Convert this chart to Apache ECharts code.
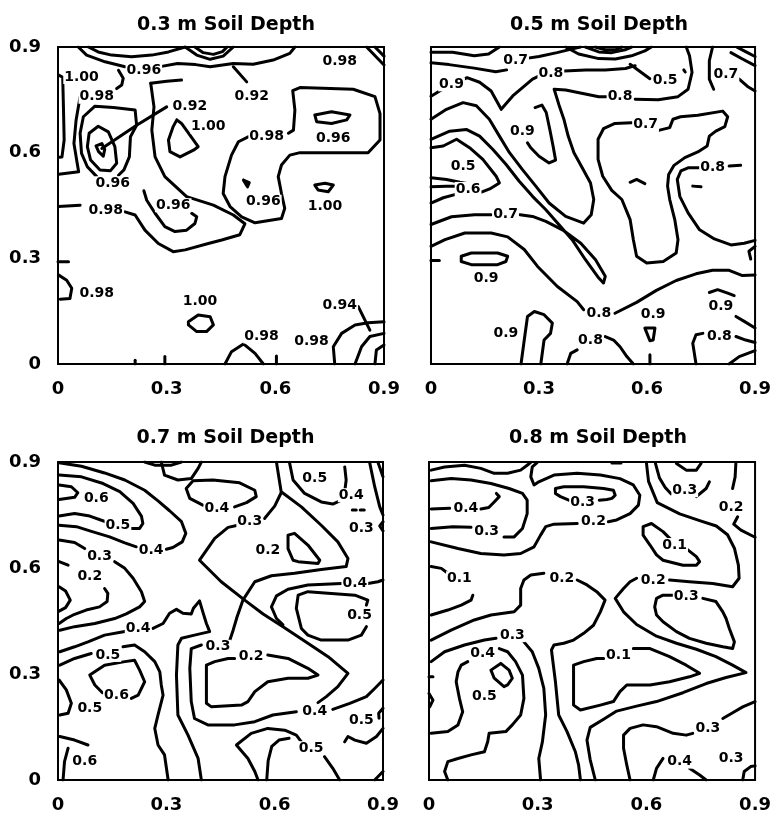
<!DOCTYPE html>
<html>
<head>
<meta charset="utf-8">
<script src="https://cdn.jsdelivr.net/npm/echarts@6/dist/echarts.min.js"></script>
<style>
html,body{margin:0;padding:0;background:#fff;}
#chart{width:774px;height:819px;}
</style>
</head>
<body>
<div id="chart"></div>
<script>
// ---------- DATA ----------
const titles = ['0.3 m Soil Depth', '0.5 m Soil Depth', '0.7 m Soil Depth', '0.8 m Soil Depth'];
const tickValues = [0, 0.3, 0.6, 0.9];
const tickLabels = ['0', '0.3', '0.6', '0.9'];

// Panel 1 (0.3 m) contour polylines, [x, y] in metres
const p1Lines = [
  [[0.002,0.82],[0.013,0.814],[0.015,0.73],[0.017,0.636],[0.011,0.588],[0.002,0.587]],
  [[0.061,0.759],[0.05,0.693],[0.044,0.626],[0.053,0.57],[0.057,0.546],[0.002,0.539]],
  [[0.107,0.532],[0.081,0.56],[0.065,0.598],[0.061,0.655],[0.07,0.702],[0.102,0.732],[0.153,0.728],[0.213,0.721],[0.217,0.678],[0.2,0.645],[0.197,0.588],[0.182,0.551],[0.167,0.536]],
  [[0.086,0.655],[0.111,0.675],[0.139,0.659],[0.157,0.617],[0.162,0.57],[0.145,0.549],[0.116,0.551],[0.09,0.579],[0.081,0.617],[0.086,0.655]],
  [[0.105,0.619],[0.121,0.626],[0.129,0.609],[0.125,0.59],[0.112,0.603],[0.105,0.619]],
  [[0.121,0.612],[0.217,0.678],[0.3,0.73]],
  [[0.256,0.797],[0.265,0.73],[0.259,0.664],[0.268,0.588],[0.295,0.532],[0.355,0.475],[0.429,0.451],[0.484,0.423],[0.516,0.398],[0.502,0.367],[0.452,0.352],[0.415,0.342],[0.351,0.324],[0.318,0.319],[0.277,0.342],[0.24,0.38],[0.213,0.423],[0.185,0.432]],
  [[0.256,0.797],[0.3,0.803],[0.341,0.806]],
  [[0.001,0.447],[0.061,0.451]],
  [[0.525,0.645],[0.498,0.631],[0.479,0.593],[0.461,0.532],[0.456,0.484],[0.475,0.447],[0.507,0.418],[0.544,0.401],[0.617,0.413],[0.626,0.442],[0.617,0.484],[0.608,0.532],[0.617,0.565],[0.64,0.593],[0.668,0.6],[0.856,0.6],[0.889,0.636],[0.889,0.711],[0.875,0.759],[0.815,0.78],[0.668,0.785],[0.648,0.776],[0.654,0.721],[0.65,0.664],[0.636,0.655]],
  [[0.709,0.707],[0.755,0.716],[0.806,0.707],[0.797,0.693],[0.755,0.683],[0.714,0.688],[0.709,0.707]],
  [[0.709,0.508],[0.737,0.513],[0.76,0.508],[0.746,0.489],[0.718,0.494],[0.709,0.508]],
  [[0.512,0.522],[0.528,0.515],[0.523,0.503],[0.512,0.522]],
  [[0.328,0.693],[0.341,0.683],[0.387,0.617],[0.374,0.607],[0.337,0.588],[0.309,0.603],[0.305,0.636],[0.318,0.674],[0.328,0.693]],
  [[0.237,0.492],[0.245,0.465],[0.268,0.428],[0.295,0.39],[0.323,0.376],[0.355,0.38],[0.378,0.399],[0.383,0.418],[0.369,0.428]],
  [[0.001,0.253],[0.024,0.238],[0.038,0.215],[0.033,0.186],[0.006,0.184]],
  [[0.36,0.12],[0.387,0.139],[0.42,0.134],[0.429,0.111],[0.41,0.092],[0.383,0.092],[0.36,0.111],[0.36,0.12]],
  [[0.461,0],[0.479,0.035],[0.512,0.057],[0.544,0.03],[0.567,0]],
  [[0.764,0],[0.76,0.049],[0.783,0.087],[0.82,0.111],[0.856,0.117],[0.9,0.12]],
  [[0.82,0],[0.838,0.049],[0.861,0.078],[0.9,0.087]],
  [[0.875,0],[0.879,0.04],[0.9,0.054]],
  [[0.829,0.163],[0.861,0.096]],
  [[0.852,0.9],[0.9,0.849]],
  [[0.875,0.9],[0.9,0.874]],
  [[0,0.29],[0.029,0.29]],
  [[0.213,0],[0.213,0.011]],
  [[0.295,0],[0.295,0.021]],
  [[0.603,0],[0.603,0.023]],
  [[0.351,0.9],[0.383,0.877],[0.42,0.865],[0.456,0.874],[0.484,0.9]],
  [[0.378,0.9],[0.401,0.884],[0.429,0.879],[0.454,0.887],[0.467,0.9]],
  [[0.286,0.845],[0.33,0.853],[0.38,0.85],[0.42,0.844],[0.484,0.853],[0.539,0.851],[0.594,0.863],[0.64,0.882],[0.654,0.9]],
  [[0.484,0.844],[0.521,0.801]],
  [[0.056,0.9],[0.079,0.877],[0.13,0.858],[0.185,0.844]],
  [[0.084,0.9],[0.111,0.886],[0.148,0.877],[0.203,0.872],[0.259,0.877],[0.305,0.886],[0.351,0.9]],
  [[0.167,0.834],[0.18,0.811],[0.176,0.792],[0.162,0.782]]
];
const p1Labels = [
  ['0.92',0.364,0.732],['1.00',0.415,0.674],['0.96',0.151,0.513],['0.98',0.107,0.759],['1.00',0.065,0.815],
  ['0.96',0.237,0.833],['0.92',0.535,0.759],['0.98',0.778,0.858],['0.98',0.576,0.645],['0.96',0.76,0.64],
  ['0.96',0.318,0.451],['0.96',0.567,0.461],['1.00',0.737,0.447],['0.98',0.132,0.437],['0.98',0.107,0.2],
  ['1.00',0.392,0.177],['0.98',0.562,0.078],['0.98',0.7,0.063],['0.94',0.778,0.167]
];

// Panel 2 (0.5 m)
const p2Lines = [
  [[0,0.885],[0.06,0.885],[0.12,0.875],[0.16,0.88],[0.19,0.9]],
  [[0,0.855],[0.05,0.85],[0.12,0.84],[0.18,0.83],[0.21,0.835]],
  [[0.26,0.867],[0.30,0.873],[0.35,0.884],[0.39,0.894],[0.415,0.9]],
  [[0,0.76],[0.04,0.785],[0.075,0.80],[0.10,0.813],[0.135,0.80],[0.167,0.775],[0.195,0.723],[0.227,0.761],[0.282,0.809],[0.305,0.82]],
  [[0.37,0.832],[0.43,0.835],[0.484,0.835],[0.54,0.839],[0.567,0.847]],
  [[0.374,0.9],[0.41,0.88],[0.466,0.867],[0.512,0.866],[0.557,0.875],[0.594,0.889],[0.612,0.9]],
  [[0.429,0.9],[0.466,0.886],[0.502,0.884],[0.539,0.892],[0.557,0.9]],
  [[0.456,0.9],[0.484,0.892],[0.512,0.892],[0.53,0.9]],
  [[0.553,0.851],[0.608,0.81]],
  [[0,0.695],[0.043,0.723],[0.089,0.742],[0.126,0.733],[0.162,0.695],[0.19,0.647],[0.218,0.6],[0.254,0.552],[0.291,0.505],[0.328,0.457],[0.374,0.419],[0.424,0.40],[0.445,0.424],[0.452,0.467],[0.443,0.514],[0.42,0.557],[0.397,0.6],[0.381,0.647],[0.369,0.695],[0.355,0.737],[0.342,0.78],[0.374,0.778],[0.466,0.759],[0.489,0.759]],
  [[0.567,0.752],[0.631,0.75],[0.686,0.759],[0.714,0.78],[0.725,0.828],[0.718,0.875],[0.709,0.9]],
  [[0,0.638],[0.052,0.661],[0.098,0.666],[0.135,0.647],[0.172,0.609],[0.208,0.567],[0.245,0.519],[0.282,0.476],[0.319,0.438],[0.355,0.396],[0.392,0.353],[0.429,0.296],[0.466,0.244],[0.479,0.23],[0.484,0.249],[0.457,0.296],[0.416,0.343],[0.365,0.381],[0.319,0.405],[0.282,0.419],[0.247,0.424]],
  [[0.167,0.424],[0.121,0.424],[0.057,0.418],[0,0.396]],
  [[0,0.614],[0.034,0.619],[0.071,0.638],[0.107,0.614],[0.144,0.581],[0.181,0.533],[0.19,0.514],[0.163,0.497],[0.14,0.488]],
  [[0.066,0.481],[0.034,0.472],[0,0.457]],
  [[0,0.529],[0.043,0.524],[0.08,0.516],[0.103,0.512],[0.08,0.505],[0.043,0.505],[0,0.503]],
  [[0.268,0.628],[0.277,0.614],[0.30,0.59],[0.328,0.571],[0.346,0.579],[0.339,0.619],[0.33,0.666],[0.32,0.714],[0.308,0.735],[0.289,0.728]],
  [[0.635,0.664],[0.663,0.671],[0.672,0.695],[0.693,0.702],[0.741,0.706],[0.81,0.718],[0.824,0.702],[0.816,0.674],[0.791,0.661],[0.773,0.647],[0.767,0.619],[0.741,0.602],[0.705,0.586],[0.675,0.564],[0.66,0.538],[0.657,0.505],[0.663,0.467],[0.677,0.41],[0.686,0.353],[0.681,0.315],[0.645,0.291],[0.599,0.287],[0.571,0.306],[0.562,0.353],[0.553,0.41],[0.53,0.467],[0.502,0.493],[0.477,0.533],[0.464,0.581],[0.464,0.638],[0.479,0.668],[0.511,0.683],[0.557,0.685]],
  [[0.746,0.557],[0.714,0.557],[0.694,0.548],[0.684,0.524],[0.691,0.476],[0.714,0.429],[0.746,0.381],[0.787,0.355],[0.833,0.338],[0.87,0.343],[0.9,0.351]],
  [[0.594,0.512],[0.571,0.524],[0.553,0.516]],
  [[0.828,0.562],[0.86,0.564]],
  [[0.727,0.505],[0.75,0.503]],
  [[0,0.334],[0.039,0.353],[0.094,0.372],[0.167,0.372],[0.213,0.361],[0.259,0.325],[0.296,0.277],[0.351,0.22],[0.406,0.177],[0.424,0.154]],
  [[0.511,0.144],[0.571,0.175],[0.626,0.209],[0.681,0.237],[0.736,0.256],[0.782,0.266],[0.828,0.266],[0.865,0.251],[0.9,0.253]],
  [[0.084,0.306],[0.112,0.315],[0.185,0.315],[0.213,0.306],[0.208,0.291],[0.185,0.282],[0.112,0.282],[0.084,0.291],[0.084,0.306]],
  [[0,0.294],[0.023,0.294]],
  [[0.25,0],[0.259,0.068],[0.268,0.135],[0.287,0.149],[0.314,0.14],[0.337,0.116],[0.332,0.087],[0.314,0.068],[0.305,0]],
  [[0.378,0],[0.388,0.03],[0.406,0.04]],
  [[0.484,0.078],[0.507,0.068],[0.525,0.049],[0.544,0.021],[0.562,0]],
  [[0.594,0.102],[0.622,0.102],[0.617,0.068],[0.608,0.066],[0.594,0.102]],
  [[0.608,0.026],[0.608,0]],
  [[0.773,0.203],[0.796,0.211],[0.824,0.201],[0.842,0.194]],
  [[0.847,0.135],[0.87,0.121],[0.9,0.102]],
  [[0.736,0],[0.727,0.059],[0.736,0.083],[0.755,0.087]],
  [[0.847,0.078],[0.874,0.068],[0.9,0.061]],
  [[0.828,0],[0.856,0.021],[0.9,0.038]],
  [[0.9,0.334],[0.883,0.32],[0.888,0.298]],
  [[0.782,0.9],[0.773,0.861],[0.773,0.809],[0.785,0.78]],
  [[0.833,0.884],[0.865,0.866],[0.9,0.847]],
  [[0.851,0.899],[0.879,0.884],[0.9,0.873]],
  [[0.856,0.809],[0.879,0.788],[0.9,0.775]],
  [[0.702,0.835],[0.706,0.829]]
];
const p2Labels = [
  ['0.7',0.235,0.862],['0.9',0.057,0.794],['0.8',0.333,0.826],['0.5',0.65,0.804],['0.8',0.525,0.761],
  ['0.7',0.819,0.823],['0.9',0.254,0.661],['0.5',0.089,0.562],['0.6',0.103,0.497],['0.7',0.207,0.424],
  ['0.7',0.596,0.68],['0.8',0.782,0.557],['0.9',0.153,0.244],['0.8',0.466,0.144],['0.9',0.617,0.14],
  ['0.9',0.805,0.163],['0.9',0.208,0.087],['0.8',0.443,0.068],['0.8',0.801,0.078]
];

// Panel 3 (0.7 m)
const p3Lines = [
  [[0.003,0.835],[0.037,0.83],[0.055,0.813],[0.046,0.8],[0.003,0.794]],
  [[0.003,0.863],[0.065,0.858],[0.125,0.839],[0.171,0.816],[0.208,0.783],[0.231,0.747],[0.235,0.726],[0.226,0.712],[0.203,0.712]],
  [[0.132,0.731],[0.088,0.747],[0.046,0.754],[0.003,0.747]],
  [[0.003,0.898],[0.065,0.888],[0.129,0.869],[0.185,0.849],[0.24,0.82],[0.277,0.79],[0.309,0.762],[0.342,0.731],[0.354,0.698],[0.344,0.674],[0.318,0.658],[0.3,0.653]],
  [[0.217,0.66],[0.185,0.671],[0.143,0.688],[0.088,0.705],[0.051,0.717],[0.003,0.721]],
  [[0.24,0.9],[0.268,0.891],[0.314,0.891],[0.342,0.9]],
  [[0.286,0.9],[0.295,0.863],[0.332,0.849],[0.369,0.853],[0.388,0.882],[0.397,0.9]],
  [[0.401,0.778],[0.365,0.797],[0.355,0.825],[0.374,0.847],[0.429,0.849],[0.503,0.841],[0.545,0.82],[0.549,0.802],[0.522,0.785],[0.489,0.773]],
  [[0.003,0.679],[0.046,0.672],[0.074,0.655]],
  [[0.157,0.618],[0.185,0.599],[0.208,0.571],[0.231,0.533],[0.24,0.505],[0.226,0.49],[0.189,0.47],[0.157,0.457],[0.102,0.443],[0.046,0.434],[0.005,0.424]],
  [[0.003,0.618],[0.028,0.608]],
  [[0.129,0.542],[0.138,0.528],[0.136,0.505],[0.115,0.49],[0.078,0.481],[0.046,0.469],[0.023,0.457],[0.003,0.443]],
  [[0.003,0.547],[0.021,0.535],[0.034,0.509],[0.021,0.488],[0.003,0.478]],
  [[0.005,0.363],[0.046,0.377],[0.083,0.391],[0.129,0.41],[0.185,0.42]],
  [[0.263,0.429],[0.291,0.443],[0.309,0.472],[0.328,0.483],[0.346,0.472],[0.369,0.47],[0.375,0.486],[0.392,0.507],[0.401,0.476],[0.411,0.443],[0.42,0.42],[0.378,0.41],[0.342,0.401],[0.332,0.382],[0.328,0.297],[0.332,0.184],[0.36,0.127],[0.388,0.061],[0.397,0]],
  [[0.005,0.325],[0.046,0.344],[0.092,0.358]],
  [[0.18,0.377],[0.212,0.382],[0.24,0.363],[0.268,0.335],[0.282,0.306],[0.286,0.269],[0.291,0.24],[0.277,0.184],[0.268,0.146],[0.277,0.099],[0.295,0.071],[0.305,0]],
  [[0.123,0.247],[0.102,0.269],[0.088,0.297],[0.129,0.325],[0.185,0.335],[0.212,0.339],[0.226,0.311],[0.24,0.278],[0.222,0.24],[0.203,0.231]],
  [[0.003,0.283],[0.023,0.255],[0.037,0.217],[0.028,0.189],[0.005,0.184]],
  [[0.005,0.123],[0.046,0.113],[0.083,0.099]],
  [[0.028,0.09],[0.018,0.052],[0.014,0]],
  [[0.605,0.899],[0.618,0.816],[0.674,0.773],[0.729,0.721],[0.775,0.674],[0.803,0.627],[0.798,0.604],[0.729,0.596],[0.655,0.585],[0.591,0.578],[0.545,0.561],[0.512,0.509],[0.496,0.462],[0.485,0.424],[0.476,0.396]],
  [[0.572,0.74],[0.6,0.775],[0.618,0.813]],
  [[0.498,0.721],[0.471,0.715],[0.434,0.684],[0.392,0.622],[0.452,0.561],[0.517,0.509],[0.568,0.47],[0.623,0.434],[0.692,0.387],[0.748,0.349],[0.803,0.302],[0.775,0.264],[0.743,0.236],[0.72,0.219]],
  [[0.397,0.382],[0.369,0.372],[0.365,0.316],[0.369,0.222],[0.378,0.174],[0.415,0.156],[0.489,0.156],[0.545,0.165],[0.595,0.184],[0.66,0.193]],
  [[0.761,0.2],[0.808,0.217],[0.854,0.236],[0.877,0.259],[0.9,0.283]],
  [[0.637,0.693],[0.655,0.698],[0.692,0.665],[0.725,0.622],[0.72,0.613],[0.665,0.618],[0.651,0.622],[0.637,0.655],[0.637,0.693]],
  [[0.785,0.556],[0.692,0.552],[0.637,0.54],[0.605,0.521],[0.591,0.49],[0.605,0.457],[0.623,0.439]],
  [[0.858,0.556],[0.886,0.561],[0.9,0.566]],
  [[0.854,0.495],[0.858,0.509],[0.822,0.523],[0.692,0.533],[0.665,0.523],[0.66,0.486],[0.674,0.429],[0.692,0.41],[0.729,0.396],[0.803,0.396],[0.84,0.41],[0.854,0.434]],
  [[0.581,0.354],[0.637,0.344],[0.692,0.316],[0.72,0.297],[0.692,0.288],[0.637,0.288],[0.581,0.278],[0.545,0.25],[0.526,0.222],[0.508,0.212],[0.425,0.207],[0.411,0.217],[0.411,0.278],[0.411,0.325],[0.434,0.335],[0.471,0.344],[0.489,0.344]],
  [[0.554,0],[0.545,0.024],[0.526,0.061],[0.494,0.099],[0.535,0.132],[0.581,0.146],[0.628,0.141],[0.66,0.127],[0.674,0.108]],
  [[0.738,0.066],[0.761,0.033],[0.78,0]],
  [[0.578,0],[0.582,0.055],[0.592,0.095],[0.612,0.113],[0.64,0.118]],
  [[0.794,0.108],[0.803,0.123],[0.822,0.113],[0.854,0.104],[0.882,0.123],[0.9,0.146]],
  [[0.877,0],[0.9,0.024]],
  [[0.641,0.899],[0.651,0.849],[0.683,0.811],[0.729,0.787],[0.761,0.781],[0.785,0.792],[0.794,0.816],[0.798,0.849],[0.794,0.886]],
  [[0.863,0.899],[0.877,0.83],[0.891,0.773],[0.9,0.75]],
  [[0.886,0.899],[0.9,0.858]],
  [[0.815,0.764],[0.826,0.764]],
  [[0.837,0.764],[0.848,0.764]],
  [[0.9,0.731],[0.891,0.719],[0.9,0.705]],
  [[0.9,0.203],[0.888,0.189],[0.889,0.175]]
];
const p3Labels = [
  ['0.6',0.106,0.797],['0.5',0.166,0.721],['0.4',0.258,0.651],['0.3',0.115,0.632],['0.2',0.088,0.575],
  ['0.4',0.44,0.77],['0.3',0.531,0.731],['0.5',0.711,0.853],['0.4',0.812,0.806],['0.3',0.84,0.712],
  ['0.2',0.581,0.651],['0.4',0.822,0.556],['0.5',0.835,0.467],['0.4',0.222,0.429],['0.3',0.443,0.377],
  ['0.2',0.535,0.349],['0.5',0.138,0.354],['0.6',0.162,0.24],['0.5',0.088,0.203],['0.6',0.074,0.052],
  ['0.4',0.711,0.193],['0.5',0.84,0.17],['0.5',0.701,0.09]
];

// Panel 4 (0.8 m)
const p4Lines = [
  [[0.006,0.877],[0.043,0.886],[0.098,0.891],[0.143,0.882],[0.18,0.868],[0.217,0.868],[0.253,0.877],[0.271,0.891],[0.281,0.899]],
  [[0.006,0.712],[0.066,0.717],[0.116,0.715]],
  [[0.207,0.688],[0.235,0.688],[0.258,0.712],[0.271,0.754],[0.271,0.792],[0.258,0.811],[0.221,0.825],[0.171,0.839],[0.116,0.849],[0.061,0.853],[0.006,0.847]],
  [[0.006,0.767],[0.057,0.769]],
  [[0.143,0.767],[0.165,0.771],[0.18,0.787],[0.194,0.802],[0.186,0.811]],
  [[0.006,0.674],[0.08,0.655],[0.143,0.641],[0.207,0.637],[0.253,0.641],[0.29,0.66],[0.308,0.693],[0.322,0.717],[0.345,0.724],[0.409,0.726]],
  [[0.495,0.731],[0.518,0.736],[0.555,0.754],[0.578,0.778],[0.582,0.806],[0.564,0.835],[0.527,0.853],[0.473,0.863],[0.409,0.868],[0.345,0.863],[0.303,0.844],[0.29,0.835],[0.281,0.858],[0.285,0.886],[0.299,0.899]],
  [[0.47,0.792],[0.491,0.794],[0.505,0.797],[0.514,0.806],[0.509,0.82],[0.482,0.825],[0.427,0.83],[0.372,0.83],[0.349,0.825],[0.349,0.811],[0.363,0.802],[0.386,0.792]],
  [[0.505,0.897],[0.53,0.897]],
  [[0.625,0.896],[0.636,0.855],[0.652,0.828],[0.668,0.81]],
  [[0.738,0.802],[0.765,0.825],[0.774,0.844]],
  [[0.683,0.896],[0.71,0.877],[0.738,0.877],[0.751,0.896]],
  [[0.6,0.899],[0.606,0.845],[0.63,0.785],[0.692,0.753],[0.747,0.734],[0.793,0.719],[0.824,0.694],[0.843,0.656],[0.854,0.608],[0.856,0.571],[0.838,0.547],[0.783,0.556],[0.719,0.561],[0.664,0.566]],
  [[0.591,0.717],[0.614,0.726],[0.646,0.703],[0.674,0.674],[0.71,0.655],[0.738,0.632],[0.747,0.618],[0.738,0.608],[0.701,0.608],[0.646,0.622],[0.628,0.637],[0.61,0.665],[0.591,0.693],[0.591,0.717]],
  [[0.847,0.896],[0.845,0.858],[0.838,0.825]],
  [[0.852,0.745],[0.841,0.724],[0.861,0.707],[0.9,0.687]],
  [[0.006,0.604],[0.034,0.599],[0.052,0.585]],
  [[0.121,0.523],[0.116,0.509],[0.089,0.495],[0.052,0.481],[0.006,0.467]],
  [[0.317,0.585],[0.281,0.58],[0.262,0.566],[0.253,0.542],[0.253,0.495],[0.235,0.476],[0.171,0.467],[0.125,0.453],[0.061,0.424],[0.006,0.396]],
  [[0.409,0.566],[0.436,0.552],[0.463,0.533],[0.486,0.509],[0.473,0.476],[0.454,0.438],[0.427,0.415],[0.399,0.396],[0.372,0.387],[0.345,0.382],[0.338,0.368],[0.349,0.278],[0.358,0.184],[0.381,0.137],[0.404,0.08],[0.413,0.042],[0.418,0]],
  [[0.573,0.571],[0.555,0.561],[0.537,0.542],[0.514,0.514],[0.537,0.476],[0.573,0.44],[0.628,0.407],[0.683,0.387],[0.738,0.37],[0.792,0.349],[0.838,0.325],[0.875,0.304],[0.82,0.29],[0.765,0.273],[0.701,0.247],[0.628,0.222],[0.573,0.209],[0.518,0.195],[0.482,0.172],[0.445,0.149],[0.436,0.113],[0.445,0.057],[0.459,0]],
  [[0.756,0.514],[0.792,0.505],[0.811,0.476],[0.82,0.457],[0.829,0.429],[0.843,0.391],[0.838,0.372],[0.811,0.377],[0.765,0.387],[0.719,0.401],[0.683,0.42],[0.646,0.448],[0.628,0.467],[0.623,0.49],[0.628,0.514],[0.646,0.523],[0.674,0.523]],
  [[0.564,0.372],[0.61,0.372],[0.664,0.349],[0.71,0.325],[0.747,0.302],[0.719,0.292],[0.664,0.278],[0.61,0.269],[0.546,0.269],[0.527,0.25],[0.509,0.222],[0.473,0.212],[0.418,0.198],[0.399,0.212],[0.399,0.325],[0.427,0.335],[0.463,0.344],[0.482,0.344]],
  [[0.811,0.174],[0.843,0.193],[0.866,0.207],[0.9,0.222]],
  [[0.728,0.132],[0.71,0.127],[0.674,0.132],[0.628,0.151],[0.591,0.156],[0.555,0.146],[0.537,0.127],[0.537,0.09],[0.546,0.042],[0.555,0]],
  [[0.646,0.061],[0.628,0.033],[0.619,0]],
  [[0.719,0.033],[0.747,0.014],[0.765,0]],
  [[0.866,0],[0.87,0.024],[0.888,0.038],[0.9,0.04]],
  [[0.006,0.335],[0.043,0.363],[0.098,0.382],[0.153,0.396],[0.185,0.401]],
  [[0.262,0.391],[0.285,0.363],[0.303,0.316],[0.317,0.259],[0.322,0.184],[0.313,0.108],[0.303,0.061],[0.308,0]],
  [[0.107,0.335],[0.089,0.325],[0.08,0.306],[0.075,0.278],[0.084,0.231],[0.093,0.193],[0.08,0.156],[0.052,0.137],[0.006,0.132]],
  [[0.194,0.372],[0.217,0.363],[0.239,0.335],[0.258,0.297],[0.262,0.231],[0.253,0.184],[0.23,0.156],[0.212,0.137],[0.166,0.132],[0.162,0.108],[0.153,0.08],[0.116,0.071],[0.08,0.061],[0.052,0.052],[0.043,0.024],[0.052,0]],
  [[0.171,0.311],[0.198,0.33],[0.221,0.311],[0.23,0.288],[0.217,0.269],[0.207,0.264],[0.18,0.288],[0.171,0.311]],
  [[0,0.245],[0.011,0.226],[0.002,0.207]],
  [[0,0.292],[0.011,0.292]]
];
const p4Labels = [
  ['0.4',0.102,0.769],['0.3',0.159,0.705],['0.3',0.424,0.787],['0.2',0.454,0.731],['0.3',0.706,0.82],
  ['0.2',0.834,0.773],['0.1',0.678,0.665],['0.1',0.084,0.571],['0.2',0.367,0.571],['0.2',0.619,0.566],
  ['0.3',0.71,0.519],['0.3',0.23,0.41],['0.4',0.148,0.358],['0.1',0.523,0.354],['0.5',0.153,0.236],
  ['0.3',0.77,0.146],['0.4',0.692,0.052],['0.3',0.834,0.061]
];

// ---------- CHART ----------
const panels = [
  {lines: p1Lines, labels: p1Labels, yLab: true},
  {lines: p2Lines, labels: p2Labels, yLab: false},
  {lines: p3Lines, labels: p3Labels, yLab: true},
  {lines: p4Lines, labels: p4Labels, yLab: false}
];
const gridBoxes = [
  {left: 58, top: 47, width: 326, height: 317},
  {left: 431, top: 47, width: 326, height: 317},
  {left: 58, top: 462, width: 325, height: 318},
  {left: 429, top: 462, width: 328, height: 318}
];
const FONT = 'DejaVu Sans';
function fmt(v) {
  const i = tickValues.findIndex(t => Math.abs(t - v) < 1e-6);
  return i >= 0 ? tickLabels[i] : '';
}
const grid = [], xAxis = [], yAxis = [], series = [], title = [];
panels.forEach((p, i) => {
  const g = gridBoxes[i];
  grid.push(Object.assign({show: true, borderColor: '#000', borderWidth: 2, backgroundColor: 'rgba(0,0,0,0)'}, g));
  title.push({
    text: titles[i], left: g.left + g.width / 2, top: i < 2 ? 11 : 424, textAlign: 'center',
    textStyle: {fontFamily: FONT, fontWeight: 'bold', fontSize: 19, color: '#000'}
  });
  const axisCommon = {
    gridIndex: i, type: 'value', min: 0, max: 0.9, interval: 0.3,
    axisLine: {show: false}, axisTick: {show: false}, splitLine: {show: false}
  };
  xAxis.push(Object.assign({}, axisCommon, {
    axisLabel: {show: true, margin: 16, color: '#000', fontFamily: FONT, fontWeight: 'bold', fontSize: 18, formatter: fmt}
  }));
  yAxis.push(Object.assign({}, axisCommon, {
    axisLabel: {show: p.yLab, margin: 17, color: '#000', fontFamily: FONT, fontWeight: 'bold', fontSize: 18, formatter: fmt}
  }));
  p.lines.forEach(line => {
    series.push({
      type: 'line', xAxisIndex: i, yAxisIndex: i, data: line,
      showSymbol: false, symbol: 'none', silent: true, z: 2,
      lineStyle: {color: '#000', width: 3, cap: 'round', join: 'round'}
    });
  });
  series.push({
    type: 'scatter', xAxisIndex: i, yAxisIndex: i, z: 5, silent: true,
    symbol: 'circle', symbolSize: 1, itemStyle: {color: 'rgba(0,0,0,0)', opacity: 1},
    data: p.labels.map(l => ({name: l[0], value: [l[1], l[2]]})),
    label: {
      show: true, position: 'inside', formatter: q => q.name,
      fontFamily: FONT, fontWeight: 'bold', fontSize: 14, color: '#000',
      textBorderWidth: 0, textBorderColor: 'transparent', textShadowBlur: 0,
      backgroundColor: '#fff', padding: [0, 1], opacity: 1
    }
  });
});
const chart = echarts.init(document.getElementById('chart'), null, {renderer: 'canvas'});
chart.setOption({animation: false, backgroundColor: '#fff', title, grid, xAxis, yAxis, series});
</script>
</body>
</html>
